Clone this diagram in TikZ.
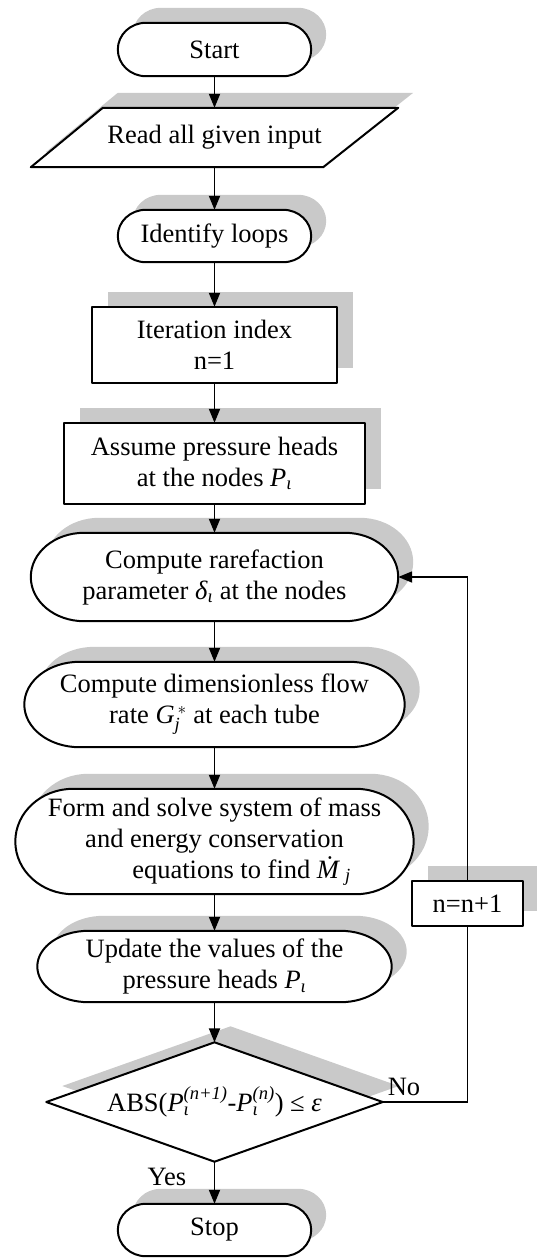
\documentclass[tikz,border=0pt]{standalone}
\usepackage{fontspec}
\usepackage{amsmath}
\setmainfont{Liberation Serif}
\usetikzlibrary{arrows.meta,calc}
\pgfdeclarelayer{background}
\pgfsetlayers{background,main}
\definecolor{shadowc}{gray}{0.79}
\tikzset{
  x=1pt, y=1pt,
  box/.style={rectangle, draw=none, inner sep=0pt, align=center, font=\fontsize{26.5}{31}\selectfont},
  outl/.style={draw=black, line width=2pt, fill=white, line join=round},
  shd/.style={fill=shadowc},
  arr/.style={line width=1.8pt, -{Triangle[length=14pt,width=11pt]}},
  conn/.style={line width=1.8pt},
  lbl/.style={font=\fontsize{26.5}{31}\selectfont, inner sep=0pt},
}
\newcommand\terminpath[3]{([shift={(\rx+#2,#3)}]#1.north west) -- ([shift={(-\rx+#2,#3)}]#1.north east) arc[start angle=90,end angle=-90,x radius=\rx pt,y radius=\ry pt] -- ([shift={(\rx+#2,#3)}]#1.south west) arc[start angle=270,end angle=90,x radius=\rx pt,y radius=\ry pt] -- cycle}
\newcommand\drawterm[2]{%
  \pgfpointdiff{\pgfpointanchor{#1}{south west}}{\pgfpointanchor{#1}{north east}}%
  \pgfgetlastxy{\mytw}{\myth}%
  \pgfmathsetmacro\rx{#2*\mytw}\pgfmathsetmacro\ry{\myth/2}%
  \begin{pgfonlayer}{background}
    \fill[shd] \terminpath{#1}{15}{15};
    \draw[outl] \terminpath{#1}{0}{0};
  \end{pgfonlayer}}
\newcommand\drawrect[1]{%
  \begin{pgfonlayer}{background}
    \fill[shd] ([shift={(16,15)}]#1.south west) rectangle ([shift={(16,15)}]#1.north east);
    \draw[outl] (#1.south west) rectangle (#1.north east);
  \end{pgfonlayer}}
\begin{document}
\begin{tikzpicture}
\useasboundingbox (0,0) rectangle (536,-1258);

% nodes
\node[box, minimum width=193, minimum height=53] (start) at (214.5,-49.5) {Start};
\node[box, minimum width=367, minimum height=59] (read) at (214.5,-137.5) {Read all given input};
\node[box, minimum width=193, minimum height=52] (ident) at (214.5,-236) {Identify loops};
\node[box, minimum width=244, minimum height=76] (iter) at (214.5,-345) {Iteration index\\n=1};
\node[box, minimum width=300, minimum height=81] (assume) at (214.5,-463.5) {Assume pressure heads\\at the nodes \textit{P}$_{\textit{ι}}$};
\node[box, minimum width=367, minimum height=88] (rare) at (214.5,-577) {Compute rarefaction\\parameter \textit{δ}$_{\textit{ι}}$ at the nodes};
\node[box, minimum width=380, minimum height=85] (dimless) at (214.5,-704.5) {Compute dimensionless flow\\rate \textit{G}$_{\textit{j}}^{\,*}$ at each tube};
\node[box, minimum width=398, minimum height=105] (form) at (214.5,-841.5) {Form and solve system of mass\\and energy conservation\\\hspace*{54pt}equations to find \textit{Ṁ}$_{\;\textit{j}}$};
\node[box, minimum width=354, minimum height=71] (update) at (214.5,-966.5) {Update the values of the\\pressure heads \textit{P}$_{\textit{ι}}$};
\node[box, minimum width=336, minimum height=119] (dec) at (214.5,-1102) {ABS(\textit{P}$_{\textit{ι}}^{\textit{(n+1)}}$-\textit{P}$_{\textit{ι}}^{\textit{(n)}}$) ≤ \textit{ε}};
\node[box, minimum width=193, minimum height=52] (stop) at (214.5,-1230) {Stop};
\node[box, minimum width=111, minimum height=45] (inc) at (467.5,-903.5) {n=n+1};

% shapes
\drawterm{start}{0.145}
\drawterm{ident}{0.145}
\drawterm{rare}{0.145}
\drawterm{dimless}{0.145}
\drawterm{form}{0.145}
\drawterm{update}{0.145}
\drawterm{stop}{0.145}
\drawrect{iter}
\drawrect{assume}
\drawrect{inc}
\begin{pgfonlayer}{background}
  \fill[shd] ([shift={(87,15)}]read.north west) -- ([shift={(15,15)}]read.north east) -- ([shift={(-60,15)}]read.south east) -- ([shift={(15,15)}]read.south west) -- cycle;
  \draw[outl] ([xshift=72]read.north west) -- (read.north east) -- ([xshift=-75]read.south east) -- (read.south west) -- cycle;
  \fill[shd] ([shift={(16,16)}]dec.north) -- ([shift={(16,16)}]dec.east) -- ([shift={(16,16)}]dec.south) -- ([shift={(16,16)}]dec.west) -- cycle;
  \draw[outl] (dec.north) -- (dec.east) -- (dec.south) -- (dec.west) -- cycle;
\end{pgfonlayer}

% connectors
\draw[arr] (start) -- (read);
\draw[arr] (read.south) -- (ident.north);
\draw[arr] (ident) -- (iter);
\draw[arr] (iter) -- (assume);
\draw[arr] (assume) -- (rare);
\draw[arr] (rare) -- (dimless);
\draw[arr] (dimless) -- (form);
\draw[arr] (form) -- (update);
\draw[arr] (update) -- (dec.north);
\draw[arr] (dec.south) -- (stop);
\draw[conn] (dec.east) -| (inc.south);
\draw[arr] (inc.north) |- (rare.east);

% labels
\node[lbl] (no) at (404,-1087) {No};
\node[lbl] (yes) at (167,-1177) {Yes};
\end{tikzpicture}
\end{document}
